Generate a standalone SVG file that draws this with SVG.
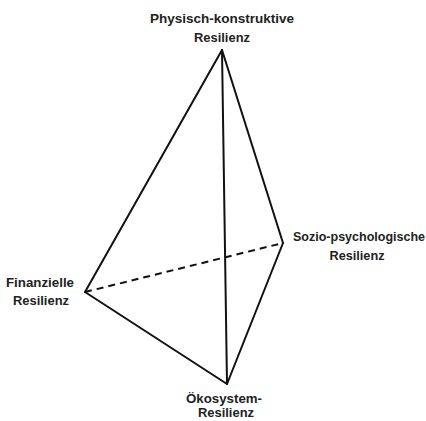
<svg xmlns="http://www.w3.org/2000/svg" width="426" height="421" viewBox="0 0 426 421">
<style>
.lbl{font-family:"Liberation Sans",Arial,sans-serif;font-weight:bold;font-size:12px;fill:#222;text-anchor:middle}
.e{stroke:#111;stroke-width:2;fill:none;stroke-linecap:round}
.d{stroke-dasharray:7 5;stroke-linecap:butt}
</style>
<rect width="426" height="421" fill="#fff"/>
<g id="connectors">
<line class="e" x1="222" y1="50" x2="85" y2="292"/>
<line class="e" x1="222" y1="50" x2="283" y2="243"/>
<line class="e" x1="222" y1="50" x2="227" y2="384"/>
<line class="e" x1="283" y1="243" x2="227" y2="384"/>
<line class="e" x1="85" y1="292" x2="227" y2="384"/>
<line class="e d" x1="85" y1="292" x2="283" y2="243"/>
</g>
<g id="top">
<text class="lbl" x="222" y="23" textLength="144" lengthAdjust="spacingAndGlyphs">Physisch-konstruktive</text>
<text class="lbl" x="222" y="42" textLength="56" lengthAdjust="spacingAndGlyphs">Resilienz</text>
</g>
<g id="right">
<text class="lbl" x="359" y="241" textLength="132" lengthAdjust="spacingAndGlyphs">Sozio-psychologische</text>
<text class="lbl" x="357" y="260" textLength="55" lengthAdjust="spacingAndGlyphs">Resilienz</text>
</g>
<g id="left">
<text class="lbl" x="40" y="287" textLength="68" lengthAdjust="spacingAndGlyphs">Finanzielle</text>
<text class="lbl" x="41" y="305" textLength="56" lengthAdjust="spacingAndGlyphs">Resilienz</text>
</g>
<g id="bottom">
<text class="lbl" x="224" y="403" textLength="76" lengthAdjust="spacingAndGlyphs">Ökosystem-</text>
<text class="lbl" x="226" y="417" textLength="56" lengthAdjust="spacingAndGlyphs">Resilienz</text>
</g>
</svg>
